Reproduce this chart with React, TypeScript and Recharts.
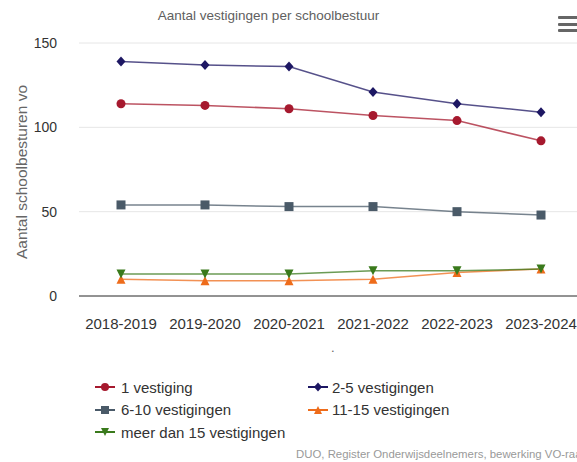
import React from 'react';
import { LineChart, Line, XAxis, YAxis, CartesianGrid } from 'recharts';

const categories = ['2018-2019', '2019-2020', '2020-2021', '2021-2022', '2022-2023', '2023-2024'];
const eenVestiging = [114, 113, 111, 107, 104, 92];
const tweeTotVijf = [139, 137, 136, 121, 114, 109];
const zesTotTien = [54, 54, 53, 53, 50, 48];
const elfTotVijftien = [10, 9, 9, 10, 14, 16];
const meerDanVijftien = [13, 13, 13, 15, 15, 16];
const yTicks = [0, 50, 100, 150];

type Shape = 'circle' | 'diamond' | 'square' | 'triangle' | 'triangle-down';

const series: { key: string; name: string; color: string; shape: Shape; values: number[] }[] = [
  { key: 's1', name: '1 vestiging', color: '#a6192e', shape: 'circle', values: eenVestiging },
  { key: 's2', name: '2-5 vestigingen', color: '#1d1763', shape: 'diamond', values: tweeTotVijf },
  { key: 's3', name: '6-10 vestigingen', color: '#4a5a68', shape: 'square', values: zesTotTien },
  { key: 's4', name: '11-15 vestigingen', color: '#ee6c1b', shape: 'triangle', values: elfTotVijftien },
  { key: 's5', name: 'meer dan 15 vestigingen', color: '#3a7a1c', shape: 'triangle-down', values: meerDanVijftien },
];

const data = categories.map((name, i) => {
  const row: Record<string, string | number> = { name };
  series.forEach((s) => {
    row[s.key] = s.values[i];
  });
  return row;
});

const FONT = '"Liberation Sans", Arial, Helvetica, sans-serif';

function Marker({ cx, cy, shape, color, r = 4.5 }: { cx: number; cy: number; shape: Shape; color: string; r?: number }) {
  if (cx == null || cy == null) return null;
  switch (shape) {
    case 'circle':
      return <circle cx={cx} cy={cy} r={r} fill={color} />;
    case 'diamond':
      return (
        <polygon
          points={`${cx},${cy - r - 0.5} ${cx + r},${cy} ${cx},${cy + r + 0.5} ${cx - r},${cy}`}
          fill={color}
        />
      );
    case 'square':
      return <rect x={cx - r} y={cy - r} width={r * 2} height={r * 2} fill={color} />;
    case 'triangle':
      return <polygon points={`${cx},${cy - r} ${cx + r},${cy + r} ${cx - r},${cy + r}`} fill={color} />;
    default:
      return <polygon points={`${cx - r},${cy - r} ${cx + r},${cy - r} ${cx},${cy + r}`} fill={color} />;
  }
}

function LegendSymbol({ shape, color }: { shape: Shape; color: string }) {
  return (
    <svg width={22} height={12} style={{ display: 'block' }}>
      <line x1={1} y1={6} x2={21} y2={6} stroke={color} strokeWidth={2} />
      <Marker cx={11} cy={6} shape={shape} color={color} r={4} />
    </svg>
  );
}

export default function App() {
  const legendRows = [
    [series[0], series[1]],
    [series[2], series[3]],
    [series[4]],
  ];

  return (
    <div
      style={{
        position: 'absolute',
        left: 0,
        top: 0,
        width: 577,
        height: 462,
        overflow: 'hidden',
        background: '#ffffff',
        fontFamily: FONT,
      }}
    >
      <div
        style={{
          position: 'absolute',
          top: 8,
          left: 0,
          width: 537,
          textAlign: 'center',
          fontSize: 13.5,
          color: '#606060',
        }}
      >
        Aantal vestigingen per schoolbestuur
      </div>

      {/* menu icon */}
      {[16, 23, 29].map((y) => (
        <div
          key={y}
          style={{ position: 'absolute', left: 558, top: y, width: 22, height: 3, background: '#666666', borderRadius: 1 }}
        />
      ))}

      <div
        style={{
          position: 'absolute',
          left: 22,
          top: 172,
          transform: 'translate(-50%, -50%) rotate(-90deg)',
          whiteSpace: 'nowrap',
          fontSize: 15.5,
          color: '#666666',
        }}
      >
        Aantal schoolbesturen vo
      </div>

      <LineChart
        width={590}
        height={462}
        data={data}
        margin={{ top: 43, right: 7, left: 0, bottom: 136 }}
        style={{ position: 'absolute', left: 0, top: 0 }}
      >
        <CartesianGrid horizontal vertical={false} stroke="#e6e6e6" strokeWidth={1} />
        <XAxis
          dataKey="name"
          padding={{ left: 42, right: 42 }}
          tickLine={false}
          tickSize={6}
          tickMargin={16}
          axisLine={{ stroke: '#333333', strokeWidth: 1 }}
          tick={{ fill: '#333333', fontSize: 15, fontFamily: FONT }}
          interval={0}
          height={30}
        />
        <YAxis
          domain={[0, 150]}
          ticks={yTicks}
          width={79}
          axisLine={false}
          tickLine={false}
          tickSize={6}
          tickMargin={16}
          tick={{ fill: '#333333', fontSize: 14, fontFamily: FONT }}
        />
        {series.map((s) => (
          <Line
            key={s.key}
            type="linear"
            dataKey={s.key}
            name={s.name}
            stroke={s.color}
            strokeOpacity={0.75}
            strokeWidth={1.5}
            isAnimationActive={false}
            activeDot={false}
            dot={(props: any) => (
              <Marker key={`${s.key}-${props.index}`} cx={props.cx} cy={props.cy} shape={s.shape} color={s.color} />
            )}
          />
        ))}
      </LineChart>

      <div style={{ position: 'absolute', left: 331, top: 340, fontSize: 13, color: '#666666' }}>.</div>

      {legendRows.map((row, ri) => (
        <React.Fragment key={ri}>
          {row.map((s, ci) => (
            <div
              key={s.key}
              style={{
                position: 'absolute',
                left: ci === 0 ? 94 : 307,
                top: 378 + ri * 22.5,
                height: 18,
                display: 'flex',
                alignItems: 'center',
                fontSize: 15,
                color: '#333333',
                whiteSpace: 'nowrap',
              }}
            >
              <LegendSymbol shape={s.shape} color={s.color} />
              <span style={{ marginLeft: ci === 0 ? 5 : 3 }}>{s.name}</span>
            </div>
          ))}
        </React.Fragment>
      ))}

      <div
        style={{
          position: 'absolute',
          left: 296,
          top: 448,
          fontSize: 11.4,
          color: '#999999',
          whiteSpace: 'nowrap',
        }}
      >
        DUO, Register Onderwijsdeelnemers, bewerking VO-raad
      </div>
    </div>
  );
}
